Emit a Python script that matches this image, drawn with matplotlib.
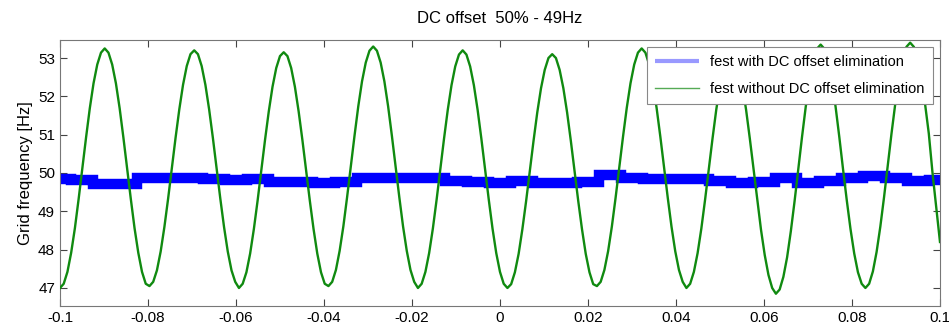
import numpy as np
import matplotlib
matplotlib.use("Agg")
import matplotlib.pyplot as plt

plt.rcParams['font.family'] = ['Liberation Sans', 'DejaVu Sans']

# green: frequency estimate without DC offset elimination, 24 samples per cycle
green_vals = [
    47.0, 47.11, 47.42, 47.92, 48.56, 49.32, 50.13, 50.93, 51.69, 52.34, 52.83, 53.14,
    53.25, 53.14, 52.83, 52.34, 51.69, 50.93, 50.13, 49.32, 48.56, 47.92, 47.42, 47.11,
    47.05, 47.16, 47.46, 47.95, 48.59, 49.33, 50.13, 50.92, 51.66, 52.30, 52.79, 53.10,
    53.2, 53.10, 52.79, 52.30, 51.66, 50.92, 50.13, 49.33, 48.59, 47.95, 47.46, 47.16,
    47.0, 47.11, 47.41, 47.90, 48.54, 49.28, 50.08, 50.87, 51.61, 52.25, 52.74, 53.05,
    53.15, 53.05, 52.74, 52.25, 51.61, 50.87, 50.08, 49.28, 48.54, 47.90, 47.41, 47.11,
    47.05, 47.16, 47.47, 47.97, 48.61, 49.37, 50.18, 50.98, 51.74, 52.39, 52.88, 53.19,
    53.3, 53.19, 52.88, 52.39, 51.74, 50.98, 50.18, 49.37, 48.61, 47.97, 47.47, 47.16,
    47.0, 47.11, 47.42, 47.91, 48.55, 49.30, 50.1, 50.90, 51.65, 52.29, 52.78, 53.09,
    53.2, 53.09, 52.78, 52.29, 51.65, 50.90, 50.1, 49.30, 48.55, 47.91, 47.42, 47.11,
    47.0, 47.10, 47.41, 47.89, 48.53, 49.26, 50.05, 50.84, 51.58, 52.21, 52.69, 53.0,
    53.1, 53.0, 52.69, 52.21, 51.58, 50.84, 50.05, 49.26, 48.53, 47.89, 47.41, 47.10,
    47.05, 47.16, 47.47, 47.96, 48.60, 49.35, 50.15, 50.95, 51.70, 52.34, 52.83, 53.14,
    53.25, 53.14, 52.83, 52.34, 51.70, 50.95, 50.15, 49.35, 48.60, 47.96, 47.47, 47.16,
    47.0, 47.11, 47.42, 47.91, 48.55, 49.30, 50.1, 50.90, 51.65, 52.29, 52.78, 53.09,
    53.2, 53.09, 52.78, 52.29, 51.65, 50.90, 50.1, 49.28, 48.52, 47.86, 47.34, 47.0,
    46.85, 46.96, 47.29, 47.80, 48.48, 49.26, 50.1, 50.94, 51.73, 52.40, 52.91, 53.24,
    53.35, 53.24, 52.91, 52.40, 51.73, 50.94, 50.1, 49.29, 48.54, 47.90, 47.41, 47.11,
    47.0, 47.11, 47.43, 47.94, 48.6, 49.37, 50.2, 51.03, 51.8, 52.46, 52.97, 53.29,
    53.4, 53.29, 52.97, 52.46, 51.8, 51.03, 50.0, 49.1, 48.2,
]

# blue: frequency estimate with DC offset elimination, every 5 ms
blue_t = np.round(np.arange(-0.1, 0.1001, 0.005), 3)
blue_vals = [
    49.85, 49.82, 49.72, 49.72, 49.88, 49.86, 49.86, 49.84, 49.82, 49.84,
    49.77, 49.76, 49.74, 49.76, 49.86, 49.87, 49.88, 49.86, 49.80, 49.76,
    49.75, 49.80, 49.74, 49.73, 49.76, 49.95, 49.88, 49.85, 49.84, 49.84,
    49.78, 49.74, 49.77, 49.86, 49.75, 49.78, 49.86, 49.93, 49.88, 49.80,
    49.82,
]

xticks = [-0.1, -0.08, -0.06, -0.04, -0.02, 0, 0.02, 0.04, 0.06, 0.08, 0.1]
xtick_labels = ['-0.1', '-0.08', '-0.06', '-0.04', '-0.02', '0', '0.02', '0.04', '0.06', '0.08', '0.1']
yticks = [47, 48, 49, 50, 51, 52, 53]

green_t = np.linspace(-0.1, 0.1, len(green_vals))

fig = plt.figure(figsize=(9.49, 3.33), dpi=100)
ax = fig.add_axes([0.0632, 0.0811, 0.9273, 0.7988])

ax.plot(blue_t, blue_vals, color='#0000ff', linewidth=7.5, drawstyle='steps-mid',
        solid_capstyle='butt', solid_joinstyle='miter',
        label='fest with DC offset elimination', zorder=2)
ax.plot(green_t, green_vals, color='#108a10', linewidth=1.7,
        label='fest without DC offset elimination', zorder=3)

ax.set_xlim(-0.1, 0.1)
ax.set_ylim(46.53, 53.47)
ax.set_xticks(xticks)
ax.set_xticklabels(xtick_labels)
ax.set_yticks(yticks)
ax.tick_params(direction='in', top=True, right=True, length=5, labelsize=11,
               color='#444444')
for s in ax.spines.values():
    s.set_color('#777777')

ax.set_ylabel('Grid frequency [Hz]', fontsize=12)
ax.set_title('DC offset  50% - 49Hz', fontsize=12, pad=12)

leg = ax.legend(loc='upper right', fontsize=10.5, frameon=True, fancybox=False,
                edgecolor='#888888', borderaxespad=0.5, handlelength=3,
                labelspacing=0.85, borderpad=0.55, framealpha=1)
leg.get_frame().set_linewidth(0.8)
leg.legend_handles[0].set_linewidth(3)
leg.legend_handles[0].set_color('#9999ff')
leg.legend_handles[0].set_drawstyle('default')
leg.legend_handles[1].set_color('#55aa55')
leg.legend_handles[1].set_linewidth(1)

fig.savefig('out.png', dpi=100)
